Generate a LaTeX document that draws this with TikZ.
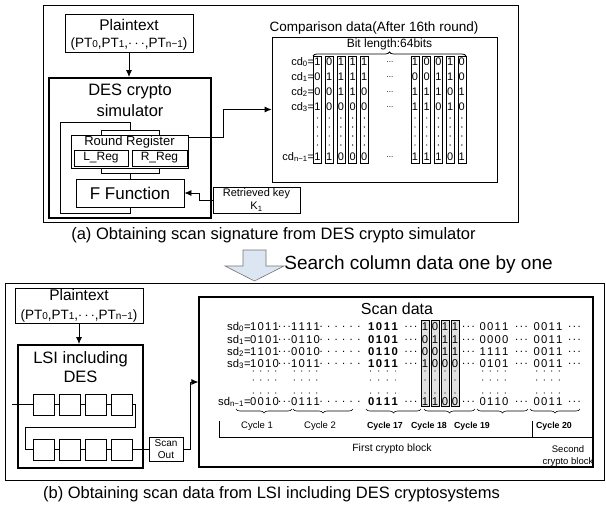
\documentclass[tikz,border=0pt]{standalone}
\usepackage{fontspec}
\setmainfont{Liberation Sans}
\usetikzlibrary{arrows.meta,decorations.pathreplacing}

\newcommand{\fsz}[1]{\fontsize{#1}{#1}\selectfont}
\newcommand{\spd}[4]{#1\kern1.2pt#2\kern1.2pt#3\kern1.2pt#4}
\newcommand{\spdb}[4]{#1\kern1.6pt#2\kern1.6pt#3\kern1.6pt#4}
\newcommand{\dthree}{.\kern1.6pt.\kern1.6pt.}
\newcommand{\dsix}{.\kern4.4pt.\kern4.4pt.\kern4.4pt.\kern4.4pt.\kern4.4pt.}
\definecolor{arrowfill}{HTML}{DCE6F2}

\begin{document}
\begin{tikzpicture}[x=1pt, y=-1pt, line width=0.8pt, >={Latex[length=7pt,width=6pt]},
  panel/.style={draw, inner sep=0pt},
  box/.style={draw, inner sep=0pt, align=center},
  thickbox/.style={draw, line width=2pt, inner sep=0pt},
  txt/.style={inner sep=0pt, align=center},
  colbox/.style={draw, line width=0.6pt, inner sep=0pt, minimum width=8, minimum height=#1},
  bit/.style={inner sep=0pt, font=\fsz{11}},
  sbit/.style={inner sep=0pt, font=\fsz{11.3}},
  bbit/.style={inner sep=0pt, font=\fsz{11.3}\bfseries},
  cyc/.style={inner sep=0pt, font=\fsz{9.5}},
  bcyc/.style={inner sep=0pt, font=\fsz{8.8}\bfseries}]
\useasboundingbox (0,0) rectangle (606,506);

% (a) DES crypto simulator
\node[panel, minimum width=475, minimum height=217] (panelA) at (280.5,113.5) {};
\node[box, minimum width=128, minimum height=38] (ptA) at (129,33) {};
\node[txt, font=\fsz{15.5}] (ptAt) at (129,25) {Plaintext};
\node[txt, font=\fsz{13.5}] (ptAs) at (129,44.5) {(PT{\fsz{10}0},PT{\fsz{10}1},$\cdots$,PT{\fsz{10}n−1})};
\node[thickbox, minimum width=162, minimum height=140] (sim) at (130,148) {};
\node[txt, font=\fontsize{16.5}{21}\selectfont] (simt) at (130,100.5) {DES crypto\\simulator};
\draw[->] (ptA.south) -- (ptA.south |- sim.north);

\node[box, minimum width=58, minimum height=5] (regtop) at (130,132.5) {};
\node[box, minimum width=117, minimum height=33] (reg) at (129.5,151.5) {};
\node[box, minimum width=58, minimum height=5] (regbot) at (130,170.5) {};
\node[txt, font=\fsz{13}] (regt) at (129.5,142.5) {Round Register};
\node[box, minimum width=54, minimum height=16, font=\fsz{12}] (lreg) at (101,158) {L\_Reg};
\node[box, minimum width=55, minimum height=16, font=\fsz{12}] (rreg) at (159.5,158) {R\_Reg};
\node[box, minimum width=108, minimum height=28, font=\fsz{17}] (ffun) at (130,193) {F Function};
\coordinate (loopTL) at (60,122);
\coordinate (loopBL) at (60,213);
\draw (regbot.south) -- (ffun.north);
\draw (ffun.south) |- (loopBL) -- (loopTL) -| (regtop.north);

\node[box, minimum width=87, minimum height=26] (key) at (256.5,200) {};
\node[txt, font=\fsz{11}] (keyt) at (256.5,194) {Retrieved key};
\node[txt, font=\fsz{11}] (keyk) at (256.5,206.5) {K\textsubscript{1}};
\draw[->] (key.west) -- ++(-13,0) |- (ffun.east);

% comparison data
\node[box, minimum width=225, minimum height=145] (cmp) at (384.5,109.5) {};
\node[txt, font=\fsz{13.5}] (cmpt) at (374,28) {Comparison data(After 16th round)};
\node[txt, font=\fsz{12}] (bitl) at (389.5,44) {Bit length:64bits};
\draw[decorate, decoration={brace, amplitude=4pt}] (313,56) -- (466,56);
\draw[->] ([yshift=-2.5pt]reg.north east) -- ++(35,0) |- (cmp.west);

\foreach \ry/\lab [count=\k] in {62/0, 77/1, 92/2, 107/3, 157/{n−1}} {
  \node[bit, anchor=east] (cdl\k) at (314.5,\ry) {cd\textsubscript{\lab}=};
  \node[inner sep=0pt, font=\fsz{8}] (cdd\k) at (390,\ry) {...};
}
\foreach \cx/\a/\b/\c/\d/\e [count=\i] in {317.5/1/0/0/1/1, 329.2/0/1/0/0/1, 340.9/1/1/1/0/0,
    352.6/1/1/1/0/0, 364.3/1/1/0/0/0, 415/1/0/1/1/1, 426.7/0/0/1/1/1, 438.4/0/1/1/0/1,
    450.1/1/1/0/1/0, 461.8/0/0/1/0/1} {
  \node[colbox=107] (cc\i) at (\cx,110) {};
  \node[bit] (cb\i-0) at (\cx,62) {\a};
  \node[bit] (cb\i-1) at (\cx,77) {\b};
  \node[bit] (cb\i-2) at (\cx,92) {\c};
  \node[bit] (cb\i-3) at (\cx,107) {\d};
  \node[bit] (cb\i-4) at (\cx,157) {\e};
  \foreach \dy in {118,127,136,145} \fill (\cx,\dy) circle (0.7pt);
}

\node[txt, font=\fsz{16.5}] (capA) at (273.5,235) {(a) Obtaining scan signature from DES crypto simulator};

% search arrow
\draw[draw=black!55, fill=arrowfill, line width=0.6pt] (243,250) -- (266,250) -- (266,266) -- (284,266)
  -- (254.5,281) -- (225,266) -- (243,266) -- cycle;
\node[txt, font=\fsz{19}, anchor=west] (srch) at (284,265) {Search column data one by one};

% (b) LSI
\node[panel, minimum width=599.5, minimum height=197] (panelB) at (304.75,381.5) {};
\node[box, minimum width=128, minimum height=35] (ptB) at (79,305.5) {};
\node[txt, font=\fsz{15.5}] (ptBt) at (79,295) {Plaintext};
\node[txt, font=\fsz{13.5}] (ptBs) at (79,316) {(PT{\fsz{10}0},PT{\fsz{10}1},$\cdots$,PT{\fsz{10}n−1})};
\node[thickbox, minimum width=125, minimum height=123] (lsi) at (80.5,406.5) {};
\node[txt, font=\fontsize{16.5}{19}\selectfont] (lsit) at (80.5,367.5) {LSI including\\DES};
\draw[->] (ptB.south) -- (ptB.south |- lsi.north);

\foreach \k/\cx in {1/43.5, 2/69.5, 3/95.5, 4/121.5} {
  \node[box, minimum width=21, minimum height=21] (s\k) at (\cx,404.5) {};
  \node[box, minimum width=21, minimum height=21] (t\k) at (\cx,449.5) {};
}
\coordinate (sin) at (12,404.5);
\coordinate (turnL) at (25,427);
\draw (sin) -- (s1) -- (s2) -- (s3) -- (s4);
\draw (t1) -- (t2) -- (t3) -- (t4);
\draw (s4.east) -- ++(3,0) |- (turnL) |- (t1.west);
\node[box, minimum width=34, minimum height=24, font=\fontsize{10}{12}\selectfont] (sout) at (166,449.5) {Scan\\Out};
\draw (t4) -- (sout);

% scan data
\node[draw, line width=1.2pt, inner sep=0pt, minimum width=394, minimum height=170] (scan) at (396,382) {};
\draw[->] (sout.east) -- ++(7,0) |- (scan.west);
\node[txt, font=\fsz{16}] (scant) at (397,309) {Scan data};

\foreach \ry/\lab/\ga/\gb/\gc/\gd/\ge [count=\r] in {327/0/1011/1111/1011/0011/0011,
    340/1/0101/0110/0101/0000/0011, 352/2/1101/0010/0110/1111/0011,
    364/3/1010/1011/1011/0101/0011, 402/{n−1}/0010/0111/0111/0110/0011} {
  \node[sbit, anchor=east] (sdl\r) at (251,\ry) {sd\textsubscript{\lab}=};
  \node[sbit] (g1-\r) at (264.5,\ry) {\expandafter\spd\ga};
  \node[sbit] (g2-\r) at (305.5,\ry) {\expandafter\spd\gb};
  \node[bbit] (g17-\r) at (383,\ry) {\expandafter\spdb\gc};
  \node[sbit] (g19-\r) at (494,\ry) {\expandafter\spd\gd};
  \node[sbit] (g20-\r) at (548,\ry) {\expandafter\spd\ge};
  \node[sbit] (d1-\r) at (284.5,\ry) {\dthree};
  \node[sbit] (d2-\r) at (340,\ry) {\dsix};
  \node[sbit] (d3-\r) at (411,\ry) {\dthree};
  \node[sbit] (d4-\r) at (468.5,\ry) {\dthree};
  \node[sbit] (d5-\r) at (521.5,\ry) {\dthree};
  \node[sbit] (d6-\r) at (574.5,\ry) {\dthree};
}
\foreach \cx/\a/\b/\c/\d/\e [count=\i] in {425/1/0/0/1/1, 435/0/1/0/0/1, 445/1/1/1/0/0, 455/1/1/1/0/0} {
  \node[colbox=86, fill=black!12] (sc\i) at (\cx,363) {};
  \node[sbit] (sb\i-0) at (\cx,327) {\a};
  \node[sbit] (sb\i-1) at (\cx,340) {\b};
  \node[sbit] (sb\i-2) at (\cx,352) {\c};
  \node[sbit] (sb\i-3) at (\cx,364) {\d};
  \node[sbit] (sb\i-4) at (\cx,402) {\e};
  \foreach \dy in {371,380,393} \fill (\cx,\dy) circle (0.6pt);
}
\foreach \gx/\gp in {264.5/7.5, 305.5/7.5, 383/8.4, 494/7.5, 548/7.5}
  \foreach \k in {1,...,4}
    \foreach \dy in {371,380,393}
      \fill ({\gx+(\k-2.5)*\gp},\dy) circle (0.6pt);

\foreach \xa/\xb in {236/292, 293/353, 366/421, 424/475, 477/528, 530/580}
  \draw[line width=0.6pt, decorate, decoration={brace, mirror, amplitude=4pt}] (\xa,409) -- (\xb,409);

\node[cyc] (cy1) at (257,426) {Cycle 1};
\node[cyc] (cy2) at (320,426) {Cycle 2};
\node[bcyc] (cy17) at (385,426) {Cycle 17};
\node[bcyc] (cy18) at (429,426) {Cycle 18};
\node[bcyc] (cy19) at (472,426) {Cycle 19};
\node[bcyc] (cy20) at (554,426) {Cycle 20};

\coordinate (brL) at (219,421);
\coordinate (brM) at (532,421);
\coordinate (brR) at (593,437);
\draw (brL) |- (brR);
\draw (brM) -- (brM |- brR);
\node[txt, font=\fsz{10.5}] (first) at (392,449) {First crypto block};
\node[txt, font=\fontsize{9.5}{11.5}\selectfont] (second) at (568,456) {Second\\crypto block};

\node[txt, font=\fsz{16.5}] (capB) at (271.5,494) {(b) Obtaining scan data from LSI including DES cryptosystems};
\end{tikzpicture}
\end{document}
